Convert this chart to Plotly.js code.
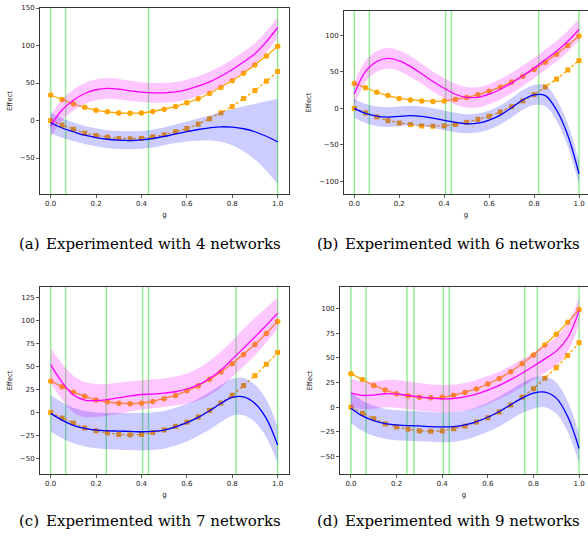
<!DOCTYPE html>
<html><head><meta charset="utf-8">
<script src="https://cdn.plot.ly/plotly-3.0.1.min.js"></script>
<style>html,body{margin:0;padding:0;background:#fff;}#plot{width:588px;height:537px;}</style>
</head><body><div id="plot"></div>
<script>
// x grid (g)
const g = [0,0.05,0.1,0.15,0.2,0.25,0.3,0.35,0.4,0.45,0.5,0.55,0.6,0.65,0.7,0.75,0.8,0.85,0.9,0.95,1.0];
// ground truth (orange)
const truthCircle = [34,28,22,17.5,13.5,11.5,10,9.5,10,12,15,18.5,23.5,29,36,44,53,63,74,86,99];
const truthSquare = [0,-6.2,-11.6,-16.9,-20,-22.2,-24,-24.4,-24,-21.8,-19.1,-15.1,-10.7,-4.9,2.2,10.2,18.7,29.3,40,52.4,65.3];

// panel (a) 4 networks
const vlinesA = [0,0.066,0.431,1.0];
const magMeanA = [-7.5,14,27,36,41,42.7,41.8,39.6,37.8,36.9,36.9,38.2,41.3,45.8,51.6,59,68,78,89,105,124];
const magUpA = [7,28,41,50,55,56.5,55.5,53,51,50,50,51.5,54.5,59,65,72.5,81.5,92,103,119,138];
const magLoA = [-22,0,13,22,27,29,28,26,24.5,23.5,23.5,25,28,32.5,38,45.5,54.5,64.5,75,91,110];
const blueMeanA = [-3,-10,-15,-19.6,-22.7,-25,-26.2,-26.7,-25.8,-24,-21.3,-17.8,-14.7,-12,-9.8,-8.4,-8.9,-11,-15,-21,-28.4];
const blueUpA = [11,3,-2.5,-7.5,-10.5,-13,-14,-14.5,-14,-12,-9.5,-5.5,-1.5,2.5,6.5,11.5,15,19,22,25.5,29];
const blueLoA = [-17,-23,-27.5,-31.5,-34.5,-37,-38,-38.5,-37.8,-36,-33,-30,-28,-27,-26.5,-28.5,-33,-41,-52,-67,-85];

// panel (b) 6 networks
const vlinesB = [0,0.067,0.4065,0.432,0.8205,1.0];
const magMeanB = [19.7,50.5,64,68.3,65,57.3,47.2,36.7,27.5,19.3,15.1,15.1,19.3,26.1,34.4,44.5,55,66.5,78,91.7,107.8];
const magUpB = [36,65,78,82.5,79,71.5,61,50.5,41.5,33.5,29,29,33,40,48.5,58.5,69,80.5,92,106,122];
const magLoB = [4,36,50,54,51,43,33.5,23,13.5,5,1,1,5.5,12,20.5,30.5,41,52.5,64,77.5,93];
const blueMeanB = [0,-6.9,-10.6,-11.9,-11,-10,-11,-13.3,-16.5,-19.3,-21.1,-20.2,-16,-9.2,0.9,11.5,18.3,17.4,-2.3,-36.7,-89.4];
const blueUpB = [13,6,2.5,1.5,2.5,3.5,2.5,0,-3,-6,-8,-7,-3,4,14,25,32,31.5,12,-21,-72];
const blueLoB = [-13,-20,-24,-25.5,-24.5,-23.5,-24.5,-26.5,-30,-32.5,-34,-33,-29,-22,-12.5,-2,4.5,3,-17,-52,-104];

// panel (c) 7 networks
const vlinesC = [0,0.066,0.245,0.405,0.431,0.817,1.0];
const magMeanC = [52,33,19,13.5,13,14,16,18,19.5,20,21,22.5,25.5,30,37,46,58,70,82,95,108];
const magUpC = [70,53,40,33,31,31,32.5,34,35,36,37,39,42.5,48,56,66,78,91,103,114,125];
const magLoC = [32,14,0,-5,-5,-3.5,-1.5,1,3,4.5,6,7.5,9.5,13,19,27,38.5,50,62,76,91];
const blueMeanC = [-1,-8.3,-14,-17.4,-19.2,-20,-20.3,-20.7,-21,-20.7,-19.2,-15.6,-11.2,-5.4,1.8,9.8,16.3,17,9.8,-6.5,-35.5];
const blueUpC = [19,11,5,1.5,0,-0.5,-0.5,-0.5,-0.5,0,1.5,5,9.5,15,22,30,36.5,37.5,30,14,-15.5];
const blueLoC = [-21,-28,-33.5,-37,-39,-40,-40.5,-41,-41.5,-41,-39.5,-36,-31.5,-25.5,-18.5,-10.5,-3.5,-3,-10.5,-27,-55];

// panel (d) 9 networks
const vlinesD = [0,0.066,0.2456,0.276,0.405,0.431,0.762,0.817,1.0];
const magMeanD = [14.3,12,12.2,13.6,13.3,12,10.5,9.2,8.5,8.8,10.5,13.3,17.3,22.1,27.9,34.4,41.5,49,56.8,70.4,97.6];
const magUpD = [28.5,26,26,27.5,27.5,26,24.5,23,22.5,23,24.5,27.5,31.5,36,42,48.5,55.5,63,71,85,111];
const magLoD = [0,-2,-1.5,0,-0.5,-2,-3.5,-4.5,-5.5,-5,-3.5,-1,3,8,14,20.5,27.5,35,42.5,56,84];
const blueMeanD = [-1,-8.8,-13.6,-16.7,-18,-18.7,-19,-19.7,-20,-19.7,-18,-14.6,-10.2,-4.4,2.4,9.2,14.3,15.3,9.2,-9.5,-41.8];
const blueUpD = [16,6.5,1.5,-1.5,-3,-3.5,-4,-5,-5.5,-5,-3.5,0,4.5,10.5,17.5,24.5,30,31,25,6,-27];
const blueLoD = [-16,-24,-29,-32,-33.5,-34,-34.5,-35,-35.5,-35,-33,-29.5,-25,-19.5,-12.5,-6,-1.5,0,-6.5,-25,-56.5];

const captions = ["(a)","(b)","(c)","(d)"];
const captionTexts = ["Experimented with 4 networks","Experimented with 6 networks","Experimented with 7 networks","Experimented with 9 networks"];

const W = 588, H = 537;
const panels = [
  {mm:magMeanA,mu:magUpA,ml:magLoA,bm:blueMeanA,bu:blueUpA,bl:blueLoA,vl:vlinesA,
   px:[40,289], py:[8,194], xr:[-0.047,1.05], yr:[-98,150], dt:50, mirrorY:true},
  {mm:magMeanB,mu:magUpB,ml:magLoB,bm:blueMeanB,bu:blueUpB,bl:blueLoB,vl:vlinesB,
   px:[344,588], py:[11,194], xr:[-0.0458,1.04], yr:[-117,133], dt:50, mirrorY:false},
  {mm:magMeanC,mu:magUpC,ml:magLoC,bm:blueMeanC,bu:blueUpC,bl:blueLoC,vl:vlinesC,
   px:[40,289], py:[287,474], xr:[-0.047,1.05], yr:[-67,136.5], dt:25, mirrorY:true},
  {mm:magMeanD,mu:magUpD,ml:magLoD,bm:blueMeanD,bu:blueUpD,bl:blueLoD,vl:vlinesD,
   px:[340,588], py:[287,474], xr:[-0.048,1.039], yr:[-67.7,121.8], dt:25, mirrorY:false}
];

const ORANGE = '#FFA500';
const traces = [];
const layout = {
  width:W, height:H, margin:{l:0,r:0,t:0,b:0}, showlegend:false,
  paper_bgcolor:'#fff', plot_bgcolor:'#fff',
  font:{family:'DejaVu Sans, sans-serif', size:7, color:'#222'},
  shapes:[], annotations:[]
};

panels.forEach((p,i)=>{
  const n = i===0 ? '' : String(i+1);
  const xa = 'x'+n, ya = 'y'+n;
  // ground truth
  traces.push({x:g, y:truthCircle, xaxis:xa, yaxis:ya, type:'scatter', mode:'lines+markers',
    line:{color:ORANGE,width:1.3}, marker:{symbol:'circle',size:5.5,color:ORANGE}});
  traces.push({x:g, y:truthSquare, xaxis:xa, yaxis:ya, type:'scatter', mode:'lines+markers',
    line:{color:ORANGE,width:1.3,dash:'3px,2px'}, marker:{symbol:'square',size:5,color:ORANGE}});
  // magenta band
  traces.push({x:g, y:p.mu, xaxis:xa, yaxis:ya, type:'scatter', mode:'lines',
    line:{width:0,shape:'spline',color:'rgba(0,0,0,0)'}, hoverinfo:'skip'});
  traces.push({x:g, y:p.ml, xaxis:xa, yaxis:ya, type:'scatter', mode:'lines', fill:'tonexty',
    fillcolor:'rgba(255,0,255,0.22)', line:{width:0,shape:'spline',color:'rgba(0,0,0,0)'}, hoverinfo:'skip'});
  // blue band
  traces.push({x:g, y:p.bu, xaxis:xa, yaxis:ya, type:'scatter', mode:'lines',
    line:{width:0,shape:'spline',color:'rgba(0,0,0,0)'}, hoverinfo:'skip'});
  traces.push({x:g, y:p.bl, xaxis:xa, yaxis:ya, type:'scatter', mode:'lines', fill:'tonexty',
    fillcolor:'rgba(0,0,255,0.2)', line:{width:0,shape:'spline',color:'rgba(0,0,0,0)'}, hoverinfo:'skip'});
  // means
  traces.push({x:g, y:p.mm, xaxis:xa, yaxis:ya, type:'scatter', mode:'lines',
    line:{color:'#FF00FF',width:1.3,shape:'spline'}});
  traces.push({x:g, y:p.bm, xaxis:xa, yaxis:ya, type:'scatter', mode:'lines',
    line:{color:'#0000FF',width:1.3,shape:'spline'}});

  const axBase = {showgrid:false, zeroline:false, showline:true, linecolor:'#333', linewidth:1,
    ticks:'outside', ticklen:3, tickwidth:0.8, tickcolor:'#333',
    tickfont:{family:'DejaVu Sans, sans-serif', size:7, color:'#222'}, fixedrange:true};
  layout['xaxis'+n] = Object.assign({}, axBase, {
    domain:[p.px[0]/W, p.px[1]/W], range:p.xr, anchor:ya, mirror:true,
    tickmode:'array', tickvals:[0,0.2,0.4,0.6,0.8,1.0], ticktext:['0.0','0.2','0.4','0.6','0.8','1.0'],
    title:{text:'g', font:{size:7,color:'#222'}, standoff:4}
  });
  layout['yaxis'+n] = Object.assign({}, axBase, {
    domain:[1-p.py[1]/H, 1-p.py[0]/H], range:p.yr, anchor:xa, mirror:p.mirrorY,
    dtick:p.dt, tick0:0,
    title:{text:'Effect', font:{size:7,color:'#222'}, standoff:6}
  });
  p.vl.forEach(v=>{
    layout.shapes.push({type:'line', xref:xa, yref:ya+' domain', x0:v, x1:v, y0:0, y1:1,
      line:{color:'#90EE90', width:1.4}, layer:'below'});
  });
  const capY = i<2 ? 244 : 521;
  const capX1 = (i%2===0) ? 16.7 : 315;
  const capX2 = (i%2===0) ? 44.3 : 343;
  const capFont = {family:'DejaVu Serif, serif', size:15, color:'#000'};
  layout.annotations.push({xref:'paper', yref:'paper', x:capX1/W, y:1-capY/H, xanchor:'left', yanchor:'middle',
    text:captions[i], showarrow:false, font:capFont});
  layout.annotations.push({xref:'paper', yref:'paper', x:capX2/W, y:1-capY/H, xanchor:'left', yanchor:'middle',
    text:captionTexts[i], showarrow:false, font:capFont});
});

Plotly.newPlot('plot', traces, layout, {staticPlot:true, displayModeBar:false});
</script>
</body></html>
